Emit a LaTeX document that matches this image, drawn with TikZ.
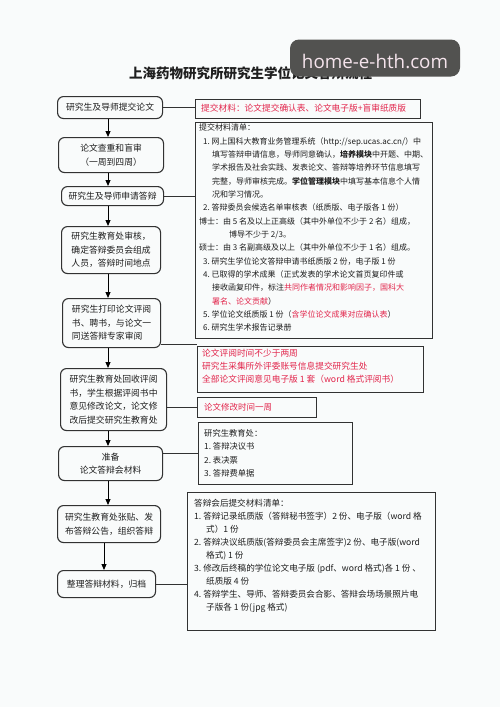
\documentclass[tikz,border=0pt]{standalone}
\usepackage{fontspec}
\setmainfont{Noto Sans CJK SC}
\newfontfamily\wmfont{Open Sans}
\usetikzlibrary{arrows.meta}
\definecolor{bord}{RGB}{50,50,50}
\definecolor{redt}{RGB}{226,38,76}
\definecolor{txt}{RGB}{30,30,30}
\definecolor{bgc}{RGB}{249,251,251}
\definecolor{wmbg}{RGB}{82,82,80}
\definecolor{wmtx}{RGB}{245,228,236}
\begin{document}
\begin{tikzpicture}[x=1pt,y=-1pt,
  lbox/.style={draw=bord,line width=1.1pt,rounded corners=6pt,anchor=north west,inner sep=0pt,
    font=\fontsize{8.8}{13.5}\selectfont,text=txt,align=center},
  rbox/.style={draw=bord,line width=1.1pt,anchor=north west,inner sep=0pt},
  tx/.style={anchor=north west,inner sep=0pt,align=left,text=txt},
  conn/.style={draw=bord,line width=1pt},
  arr/.style={draw=black,line width=1pt,-{Triangle[length=6pt,width=5pt]}}]
\fill[bgc] (0,0) rectangle (500,707);
\useasboundingbox (0,0) rectangle (500,707);

% title
\node[font=\fontsize{13.5}{14}\selectfont\bfseries,text=txt,inner sep=0pt] (title) at (250.5,73) {上海药物研究所研究生学位论文答辩流程};

% watermark
\node[fill=wmbg,rounded corners=9pt,minimum width=170pt,minimum height=37pt,inner sep=0pt] (wm) at (375,58) {};
\node[text=wmtx,font=\wmfont\fontsize{18.8}{20}\selectfont,inner sep=0pt] (wmt) at (375,61) {home-e-hth.com};

% left column
\node[lbox,minimum width=105pt,minimum height=22pt] (b1) at (57,96) {研究生及导师提交论文};
\node[lbox,minimum width=105pt,minimum height=35pt] (b2) at (58,137) {论文查重和盲审\\（一周到四周）};
\node[lbox,minimum width=102pt,minimum height=19pt] (b3) at (61,186) {研究生及导师申请答辩};
\node[lbox,minimum width=99pt,minimum height=47pt] (b4) at (61,226) {研究生教育处审核，\\确定答辩委员会组成\\人员，答辩时间地点};
\node[lbox,minimum width=98pt,minimum height=49pt,align=left] (b5) at (62,298) {研究生打印论文评阅\\书、聘书，与论文一\\同送答辩专家审阅};
\node[lbox,minimum width=106pt,minimum height=62pt] (b6) at (60,368) {研究生教育处回收评阅\\书，学生根据评阅书中\\意见修改论文，论文修\\改后提交研究生教育处};
\node[lbox,minimum width=104pt,minimum height=34pt] (b7) at (58,446) {准备\\论文答辩会材料};
\node[lbox,minimum width=103pt,minimum height=37pt] (b8) at (57,505) {研究生教育处张贴、发\\布答辩公告，组织答辩};
\node[lbox,minimum width=98pt,minimum height=27pt] (b9) at (57,570) {整理答辩材料，归档};

% arrows
\coordinate (ax) at (108,0);
\coordinate (ax2) at (104,0);
\draw[arr] (b1.south -| ax) -- (b2.north -| ax);
\draw[arr] (b2.south -| ax) -- (b3.north -| ax);
\draw[arr] (b3.south -| ax) -- (b4.north -| ax);
\draw[arr] (b4.south -| ax) -- (b5.north -| ax);
\draw[arr] (b5.south -| ax) -- (b6.north -| ax);
\draw[arr] (b6.south -| ax) -- (b7.north -| ax);
\draw[arr] (b7.south -| ax) -- (b8.north -| ax);
\draw[arr] (b8.south -| ax2) -- (b9.north -| ax2);

% right column
\node[rbox,minimum width=225pt,minimum height=19pt] (R1) at (195,99) {};
\node[tx,anchor=west,text=redt,font=\fontsize{8.7}{12}\selectfont] (R1t) at (201,108.5) {提交材料：论文提交确认表、论文电子版+盲审纸质版};

\node[rbox,minimum width=237pt,minimum height=216pt] (R2) at (195,122) {};
\node[tx,font=\fontsize{8}{13.33}\selectfont] (R2t) at (199,124) {提交材料清单：\\
\hspace*{4pt}1.\ 网上国科大教育业务管理系统（http://sep.ucas.ac.cn/）中\\
\hspace*{13pt}填写答辩申请信息，导师同意确认，\textbf{培养模块}中开题、中期、\\
\hspace*{13pt}学术报告及社会实践、发表论文、答辩等培养环节信息填写\\
\hspace*{13pt}完整，导师审核完成。\textbf{学位管理模块}中填写基本信息个人情\\
\hspace*{13pt}况和学习情况。\\
\hspace*{4pt}2.\ 答辩委员会候选名单审核表（纸质版、电子版各 1 份）\\
博士：由 5 名及以上正高级（其中外单位不少于 2 名）组成，\\
\hspace*{30pt}博导不少于 2/3。\\
硕士：由 3 名副高级及以上（其中外单位不少于 1 名）组成。\\
\hspace*{4pt}3.\ 研究生学位论文答辩申请书纸质版 2 份，电子版 1 份\\
\hspace*{4pt}4.\ 已取得的学术成果（正式发表的学术论文首页复印件或\\
\hspace*{13pt}接收函复印件，标注\textcolor{redt}{共同作者情况和影响因子，国科大}\\
\hspace*{13pt}\textcolor{redt}{署名、论文贡献}）\\
\hspace*{4pt}5.\ 学位论文纸质版 1 份（\textcolor{redt}{含学位论文成果对应确认表}）\\
\hspace*{4pt}6.\ 研究生学术报告记录册};

\node[rbox,minimum width=226pt,minimum height=46pt] (R3) at (197,346) {};
\node[tx,text=redt,font=\fontsize{8.7}{12.8}\selectfont] (R3t) at (202,349) {论文评阅时间不少于两周\\研究生采集所外评委账号信息提交研究生处\\全部论文评阅意见电子版 1 套（word 格式评阅书）};

\node[rbox,minimum width=119pt,minimum height=20pt] (R4) at (197,397) {};
\node[tx,anchor=west,text=redt,font=\fontsize{8.5}{12}\selectfont] (R4t) at (204,407) {论文修改时间一周};

\node[rbox,minimum width=154pt,minimum height=62pt] (R5) at (198,422) {};
\node[tx,font=\fontsize{8.3}{13.5}\selectfont] (R5t) at (204,429) {研究生教育处：\\1.\ 答辩决议书\\2.\ 表决票\\3.\ 答辩费单据};

\node[rbox,minimum width=248pt,minimum height=138pt] (R6) at (187,492) {};
\node[tx,font=\fontsize{8.6}{13}\selectfont] (R6t) at (194,499) {答辩会后提交材料清单：\\
1.\ 答辩记录纸质版（答辩秘书签字）2 份、电子版（word 格\\
\hspace*{12pt}式）1 份\\
2.\ 答辩决议纸质版(答辩委员会主席签字)2 份、电子版(word\\
\hspace*{12pt}格式) 1 份\\
3.\ 修改后终稿的学位论文电子版 (pdf、word 格式)各 1 份 、\\
\hspace*{12pt}纸质版 4 份\\
4.\ 答辩学生、导师、答辩委员会合影、答辩会场场景照片电\\
\hspace*{12pt}子版各 1 份(jpg 格式)};

% connectors
\draw[conn] (b1.east) -- (b1.east -| R1.west);
\draw[conn] (b3.east) -- (b3.east -| R2.west);
\coordinate (c5) at ([yshift=4pt]b5.south east);
\draw[conn] (c5) -- (c5 -| R3.west);
\draw[conn] (R4.west) -- (R4.west -| b6.east);
\draw[conn] (R5.west) -- (R5.west -| b7.east);
\draw[conn] (b9.east) -- (b9.east -| R6.west);
\end{tikzpicture}
\end{document}
